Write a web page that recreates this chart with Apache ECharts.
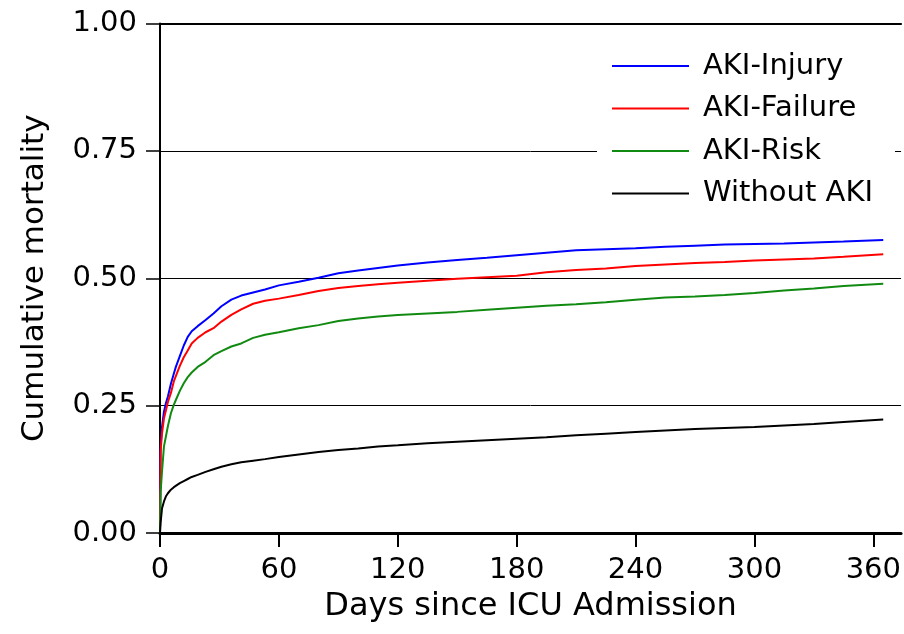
<!DOCTYPE html>
<html>
<head>
<meta charset="utf-8">
<script src="https://cdn.jsdelivr.net/npm/echarts@6/dist/echarts.min.js"></script>
<style>
html,body{margin:0;padding:0;background:#fff;}
#chart{width:904px;height:634px;}
</style>
</head>
<body>
<div id="chart"></div>
<script>
var days = [0, 0.3, 1, 2, 3, 4, 5.5, 7, 8, 10, 12, 14, 16, 19, 23, 27, 31, 36, 41, 47, 53, 60, 70, 80, 90, 100, 110, 120, 135, 150, 165, 180, 195, 210, 225, 240, 255, 270, 285, 300, 315, 330, 345, 365];

var akiInjury = [0, 0.17, 0.208, 0.238, 0.255, 0.268, 0.293, 0.313, 0.326, 0.347, 0.368, 0.385, 0.396, 0.406, 0.418, 0.431, 0.445, 0.458, 0.466, 0.472, 0.478, 0.486, 0.493, 0.501, 0.510, 0.515, 0.520, 0.525, 0.531, 0.536, 0.540, 0.545, 0.550, 0.555, 0.557, 0.559, 0.562, 0.564, 0.566, 0.567, 0.568, 0.570, 0.572, 0.575];

var akiFailure = [0, 0.16, 0.195, 0.225, 0.241, 0.257, 0.275, 0.298, 0.308, 0.328, 0.345, 0.358, 0.372, 0.383, 0.394, 0.402, 0.415, 0.428, 0.439, 0.450, 0.456, 0.460, 0.467, 0.475, 0.481, 0.485, 0.488, 0.491, 0.495, 0.499, 0.502, 0.505, 0.512, 0.516, 0.519, 0.524, 0.527, 0.530, 0.532, 0.535, 0.537, 0.539, 0.542, 0.547];

var akiRisk = [0, 0.08, 0.12, 0.17, 0.19, 0.21, 0.235, 0.252, 0.261, 0.279, 0.294, 0.306, 0.315, 0.326, 0.336, 0.349, 0.357, 0.366, 0.372, 0.383, 0.389, 0.394, 0.402, 0.408, 0.416, 0.421, 0.425, 0.428, 0.431, 0.434, 0.438, 0.442, 0.446, 0.449, 0.453, 0.458, 0.462, 0.464, 0.467, 0.471, 0.476, 0.480, 0.485, 0.489];

var withoutAki = [0, 0.02, 0.048, 0.062, 0.072, 0.078, 0.085, 0.09, 0.093, 0.098, 0.102, 0.106, 0.110, 0.114, 0.120, 0.125, 0.130, 0.135, 0.139, 0.142, 0.145, 0.149, 0.154, 0.159, 0.163, 0.166, 0.170, 0.172, 0.176, 0.179, 0.182, 0.185, 0.188, 0.192, 0.195, 0.198, 0.201, 0.204, 0.206, 0.208, 0.211, 0.214, 0.218, 0.223];

var seriesNames = ['AKI-Injury', 'AKI-Failure', 'AKI-Risk', 'Without AKI'];
var xTicks = [0, 60, 120, 180, 240, 300, 360];

function pairs(vals) {
  return days.map(function (d, i) { return [d, vals[i]]; });
}

var FONT = '"DejaVu Sans", "Liberation Sans", Arial, sans-serif';
var chart = echarts.init(document.getElementById('chart'));
var colors = ['#0000ff', '#ff0000', '#118a11', '#000000'];
var allVals = [akiInjury, akiFailure, akiRisk, withoutAki];

chart.setOption({
  animation: false,
  backgroundColor: '#ffffff',
  grid: { left: 160, right: 0, top: 23.5, bottom: 101, containLabel: false },
  legend: {
    data: seriesNames,
    orient: 'vertical',
    left: 597,
    top: 36,
    backgroundColor: '#ffffff',
    padding: [15, 22, 15, 15],
    icon: 'rect',
    itemWidth: 77,
    itemHeight: 2,
    itemGap: 12.5,
    textStyle: { fontSize: 29, fontFamily: FONT, color: '#000', lineHeight: 30, padding: [0, 0, 0, 9] }
  },
  xAxis: [{
    type: 'value',
    min: 0,
    max: 374,
    name: 'Days since ICU Admission',
    nameLocation: 'middle',
    nameGap: 58,
    nameTextStyle: { fontSize: 32, fontFamily: FONT, color: '#000' },
    axisLine: { show: true, onZero: false, lineStyle: { color: '#000', width: 3 } },
    axisTick: { show: true, length: 14, lineStyle: { color: '#000', width: 2 }, customValues: xTicks },
    axisLabel: { fontSize: 29, fontFamily: FONT, color: '#000', margin: 23, customValues: xTicks },
    splitLine: { show: false }
  }, {
    type: 'value',
    position: 'top',
    min: 0,
    max: 374,
    axisLine: { show: true, onZero: false, lineStyle: { color: '#000', width: 2 } },
    axisTick: { show: false },
    axisLabel: { show: false },
    splitLine: { show: false }
  }],
  yAxis: {
    type: 'value',
    min: 0,
    max: 1,
    interval: 0.25,
    name: 'Cumulative mortality',
    nameLocation: 'middle',
    nameGap: 110,
    nameTextStyle: { fontSize: 31, fontFamily: FONT, color: '#000' },
    axisLine: { show: true, lineStyle: { color: '#000', width: 2 } },
    axisTick: { show: true, length: 14, lineStyle: { color: '#000', width: 1.5 } },
    axisLabel: {
      fontSize: 29, fontFamily: FONT, color: '#000', margin: 23,
      formatter: function (v) { return v.toFixed(2); }
    },
    splitLine: { show: true, lineStyle: { color: '#000', width: 1 } }
  },
  series: seriesNames.map(function (n, i) {
    return {
      name: n,
      type: 'line',
      xAxisIndex: 0,
      data: pairs(allVals[i]),
      showSymbol: false,
      symbol: 'none',
      color: colors[i],
      lineStyle: { width: 2, color: colors[i] },
      z: 3
    };
  })
});
</script>
</body>
</html>
